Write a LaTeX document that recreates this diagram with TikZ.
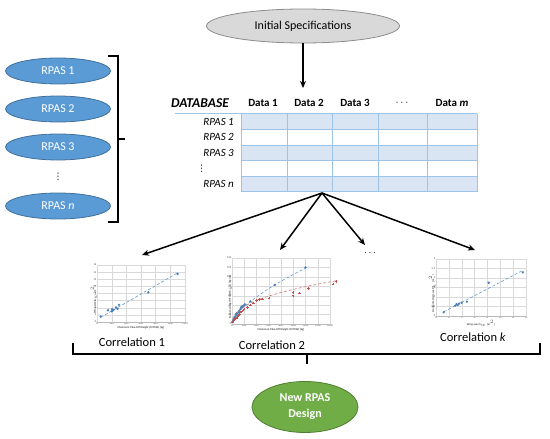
\documentclass[tikz,border=0pt]{standalone}
\usepackage{fontspec}
\setmainfont{Carlito}
\newfontfamily\symfont{DejaVu Sans}
\usetikzlibrary{arrows.meta, positioning, calc, shapes.geometric}

\definecolor{rpasblue}{HTML}{5B9BD5}
\definecolor{rpasedge}{HTML}{41719C}
\definecolor{specgray}{HTML}{D9D9D9}
\definecolor{specedge}{HTML}{8C8C8C}
\definecolor{newgreen}{HTML}{70AD47}
\definecolor{newedge}{HTML}{507E32}
\definecolor{cellfill}{HTML}{DAE5F3}
\definecolor{celledge}{HTML}{9DC3E6}
\definecolor{ptblue}{HTML}{4A7EBB}
\definecolor{ptred}{HTML}{C0504D}

\begin{document}
\begin{tikzpicture}[
    x=1pt, y=-1pt,
    rpas/.style={ellipse, draw=rpasedge, fill=rpasblue, line width=0.8pt,
                 minimum width=105pt, minimum height=26pt, text=white,
                 font=\fontsize{12}{14}\selectfont},
    spec/.style={ellipse, draw=specedge, fill=specgray, line width=0.8pt,
                 minimum width=193pt, minimum height=34pt,
                 font=\fontsize{12}{14}\selectfont},
    newdesign/.style={ellipse, draw=newedge, fill=newgreen, line width=0.8pt,
                 minimum width=106pt, minimum height=51pt, text=white, align=center,
                 font=\fontsize{12}{16}\selectfont\bfseries},
    dbtitle/.style={font=\fontsize{13.5}{15}\selectfont\bfseries\itshape, inner sep=0pt},
    colhead/.style={font=\fontsize{11}{13}\selectfont\bfseries, inner sep=0pt},
    rowlab/.style={font=\fontsize{11}{13}\selectfont\itshape, inner sep=0pt},
    corr/.style={font=\fontsize{12.5}{14}\selectfont, inner sep=0pt},
    cellline/.style={draw=celledge, line width=0.8pt},
    bracket/.style={draw=black, line width=1.3pt},
    arr/.style={-{Stealth[length=7pt, width=6pt]}, line width=1.5pt},
    grid/.style={draw=gray!30, line width=0.3pt},
    frame/.style={draw=gray!55, line width=0.4pt},
    tick/.style={font=\fontsize{2.8}{3}\selectfont, text=gray!60!black, inner sep=0.6pt},
    axtitle/.style={font=\fontsize{2.8}{3}\selectfont\bfseries, text=gray!60!black, inner sep=0pt},
    trend/.style={draw=ptblue!80, densely dashed, line width=0.6pt},
    trendred/.style={draw=ptred!80, densely dashed, line width=0.6pt},
]
    \useasboundingbox (0,0) rectangle (550,439);

    %==================== INITIAL SPECIFICATIONS ====================
    \node[spec] (spec) at (303,26) {Initial Specifications};
    \coordinate (dbtop) at (303,88);
    \draw[arr] (spec) -- (dbtop);

    %==================== RPAS LIST ====================
    \node[rpas] (rpas1) at (58,71) {RPAS 1};
    \node[rpas] (rpas2) at (58,109) {RPAS 2};
    \node[rpas] (rpas3) at (58,147) {RPAS 3};
    \node[inner sep=0pt, font=\symfont\fontsize{9}{10}\selectfont] (rpasdots) at (58,177) {⋮};
    \node[rpas] (rpasn) at (58,206) {RPAS \textit{n}};

    % bracket gathering the list
    \draw[bracket] (108,56) -- (118,56) -- (118,222) -- (108,222);
    \draw[bracket] (118,139) -- (125,139);

    %==================== DATABASE TABLE ====================
    \node[dbtitle] (dbname) at (200,103) {DATABASE};
    \foreach \lab/\x [count=\i] in {Data 1/263, Data 2/309, Data 3/355}
        \node[colhead] (col\i) at (\x,103) {\lab};
    \node[colhead] (col4) at (402,103) {$\cdots$};
    \node[colhead] (colm) at (452,103) {Data \textit{m}};

    \foreach \r in {1,3,5}
        \fill[cellfill] (241,{114+(\r-1)*15.5}) rectangle (477,{114+\r*15.5});
    \draw[celledge, line width=1.5pt] (175,113.5) -- (477,113.5);
    \foreach \c in {241,287,332,378,427,477}
        \draw[cellline] (\c,114) -- (\c,191.5);
    \foreach \r in {1,...,5}
        \draw[cellline] (241,{114+\r*15.5}) -- (477,{114+\r*15.5});

    \foreach \lab [count=\i] in {RPAS 1, RPAS 2, RPAS 3}
        \node[rowlab, anchor=east] (row\i) at (234,{114+(\i-0.5)*15.5}) {\lab};
    \node[inner sep=0pt, anchor=west, font=\symfont\fontsize{9}{10}\selectfont]
        (row4) at (197,{114+3.5*15.5}) {⋮};
    \node[rowlab, anchor=east] (rown) at (234,{114+4.5*15.5}) {RPAS n};

    %==================== SPLIT TO CORRELATIONS ====================
    \coordinate (dbbot) at (322,193);
    \coordinate (c1in) at (142,255);
    \coordinate (c2in) at (280,250);
    \coordinate (c3in) at (365,245);
    \coordinate (ckin) at (475,250);
    \foreach \t in {c1in, c2in, c3in, ckin}
        \draw[arr] (dbbot) -- (\t);
    \node[inner sep=0pt] (moredots) at (370,253) {$\cdots$};

    %==================== CHART 1 ====================
    \begin{scope}[shift={(97,322)}, x=0.0733pt, y=3.5625pt]
        \foreach \v in {0,200,...,1200} {
            \draw[grid] (\v,0) -- (\v,16);
            \node[tick, anchor=north] (c1x\v) at (\v,0) {\v};
        }
        \foreach \v in {0,2,...,16} {
            \draw[grid] (0,\v) -- (1200,\v);
            \node[tick, anchor=east] (c1y\v) at (0,\v) {\v};
        }
        \draw[frame] (0,0) -- (1200,0);
        \draw[trend] (50,1.3) -- (1100,13.8);
        \foreach \a/\b in {50/1.5, 150/3.3, 200/3.0, 205/3.6, 215/3.2, 225/3.4,
                           260/4.1, 280/3.7, 300/4.8, 700/8.3, 1100/13.5}
            \fill[ptblue] (\a,\b) +(1.3pt,0pt) -- +(0pt,1.3pt) -- +(-1.3pt,0pt) -- +(0pt,-1.3pt) -- cycle;
        \node[axtitle, anchor=north] (c1xt) at (600,0) [yshift=-4.5pt]
            {Maximum Take-Off Weight (MTOW) [kg]};
        \node[axtitle, anchor=south, rotate=90] (c1yt) at (0,8) [xshift=-6pt]
            {Wing area S$_w$ [m$^2$]};
    \end{scope}
    \node[corr] (corr1) at (132,342) {Correlation 1};

    %==================== CHART 2 ====================
    \begin{scope}[shift={(232,324)}, x=0.06125pt, y=0.4714pt]
        \foreach \v in {0,200,...,1600} {
            \draw[grid] (\v,0) -- (\v,140);
            \node[tick, anchor=north] (c2x\v) at (\v,0) {\v};
        }
        \foreach \v in {0,20,...,140} {
            \draw[grid] (0,\v) -- (1600,\v);
            \node[tick, anchor=east] (c2y\v) at (0,\v) {\v};
        }
        \draw[frame] (0,0) -- (1600,0);
        \draw[trend] plot[domain=10:1250, samples=40] (\x, {1.1*\x^0.66});
        \draw[trendred] plot[domain=10:1720, samples=40] (\x, {4.03*\x^0.42});
        \foreach \a/\b in {10/5, 20/8, 30/10, 40/12, 50/15, 60/17, 70/20, 80/22,
                           100/25, 120/28, 140/32, 150/35, 160/37, 180/38,
                           200/40, 210/42, 300/48, 700/83, 1200/120}
            \fill[ptblue] (\a,\b) +(1.3pt,0pt) -- +(0pt,1.3pt) -- +(-1.3pt,0pt) -- +(0pt,-1.3pt) -- cycle;
        \foreach \a/\b in {10/4, 20/6, 30/8, 50/10, 60/12, 80/14, 100/18, 120/20,
                           140/25, 160/28, 180/30, 200/32, 250/35, 300/40, 350/45,
                           400/50, 450/52, 500/53, 600/55, 1000/60, 1000/67,
                           1100/66, 1250/75, 1650/85, 1700/90}
            \draw[ptred, line width=0.5pt] (\a,\b) +(-1.2pt,0pt) -- +(1.2pt,0pt)
                                           (\a,\b) +(0pt,-1.2pt) -- +(0pt,1.2pt);
        \node[axtitle, anchor=north] (c2xt) at (800,0) [yshift=-4.5pt]
            {Maximum Take-Off Weight (MTOW) [kg]};
        \node[axtitle, anchor=south, rotate=90] (c2yt) at (0,70) [xshift=-6pt]
            {Span Loading (MTOW/b$_w$) [kg/m]};
    \end{scope}
    \node[corr] (corr2) at (272,345) {Correlation 2};

    %==================== CHART k ====================
    \begin{scope}[shift={(436,316)}, x=6.43pt, y=19pt]
        \foreach \v in {0,2,...,14} {
            \draw[grid] (\v,0) -- (\v,3);
            \node[tick, anchor=north] (ckx\v) at (\v,0) {\v};
        }
        \foreach \v [count=\i] in {0,0.5,1,1.5,2,2.5,3} {
            \draw[grid] (0,\v) -- (14,\v);
            \node[tick, anchor=east] (cky\i) at (0,\v) {\v};
        }
        \draw[frame] (0,0) -- (14,0);
        \draw[trend] (1.2,0.22) -- (13.5,2.4);
        \foreach \a/\b in {1.2/0.2, 3.0/0.55, 3.2/0.62, 3.4/0.58, 3.6/0.66,
                           4.0/0.7, 4.8/0.75, 8.2/1.75, 13.5/2.3}
            \fill[ptblue] (\a,\b) +(1.3pt,0pt) -- +(0pt,1.3pt) -- +(-1.3pt,0pt) -- +(0pt,-1.3pt) -- cycle;
        \node[axtitle, anchor=north] (ckxt) at (7,0) [yshift=-4.5pt]
            {Wing area S$_w$ [m$^2$]};
        \node[axtitle, anchor=south, rotate=90] (ckyt) at (0,1.5) [xshift=-6pt]
            {Horizontal tail area S$_h$ [m$^2$]};
    \end{scope}
    \node[corr] (corrk) at (473,337) {Correlation \textit{k}};

    %==================== GATHER + NEW DESIGN ====================
    \draw[bracket] (73,343) -- (73,354) -- (540,354) -- (540,343);
    \draw[bracket] (307,354) -- (307,364);

    \node[newdesign] (newrpas) at (305,407) {New RPAS\\Design};

\end{tikzpicture}
\end{document}
